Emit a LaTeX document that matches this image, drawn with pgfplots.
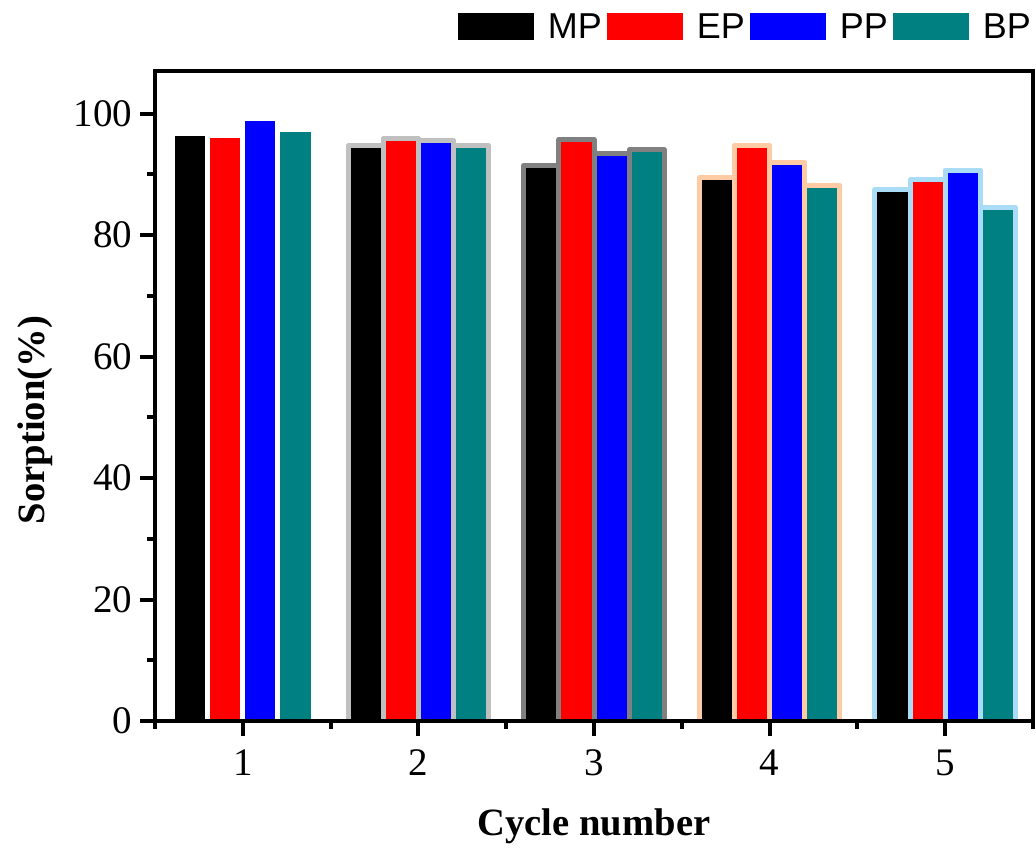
\documentclass[border=0pt]{standalone}
\usepackage{fontspec}
\setmainfont{Liberation Serif}
\newfontfamily\arial{Liberation Sans}
\usepackage{pgfplots}
\pgfplotsset{compat=1.18}
\definecolor{myteal}{HTML}{008080}
\definecolor{olg}{HTML}{C0C0C0}
\definecolor{ogr}{HTML}{808080}
\definecolor{opc}{HTML}{FFCBA4}
\definecolor{olb}{HTML}{AADCF5}
\pgfplotsset{myleg/.style={legend image code/.code={\path[fill, draw=none] (0pt,-13.5pt) rectangle (76pt,13.5pt);}}}
\newcommand{\onebar}[4]{\addplot[ybar, bar width=0.2, bar shift=#3, fill=#1, draw=#2, line width=5pt, line join=round, forget plot] coordinates {(#4)};}
\begin{document}
\begin{tikzpicture}
\begin{axis}[name=ax,
 scale only axis, width=878pt, height=650pt,
 xmin=0.5, xmax=5.5, ymin=0, ymax=107,
 xtick={1,2,3,4,5}, minor xtick={0.5,1.5,2.5,3.5,4.5,5.5},
 ytick={0,20,40,60,80,100}, minor ytick={10,30,50,70,90},
 tick align=outside, xtick pos=bottom, ytick pos=left,
 major tick length=15pt, minor tick length=8pt,
 axis line style={line width=4.5pt},
 major tick style={line width=4pt, black},
 minor tick style={line width=4pt, black},
 tick label style={font=\fontsize{39}{39}\selectfont},
 xticklabel style={yshift=-10pt},
 yticklabel style={xshift=-4pt},
 /pgf/number format/assume math mode=true,
 xlabel={Cycle number}, ylabel={Sorption(\%)},
 label style={font=\bfseries\fontsize{38.6}{40}\selectfont},
 xlabel style={at={(axis description cs:0.5,-0.1754)}, anchor=base},
 ylabel style={at={(axis description cs:-0.1264,0.463)}, anchor=base},
 legend columns=4, legend cell align=left,
 legend style={draw=none, fill=none, inner sep=0pt, outer sep=0pt,
   at={(axis description cs:0.9977,1.0477)}, anchor=south east,
   font=\arial\fontsize{36}{36}\selectfont,
   /tikz/every odd column/.append style={column sep=14pt},
   /tikz/every even column/.append style={column sep=5pt},
   nodes={inner sep=0pt}},
]
% cycle 1
\onebar{black}{white}{-0.3}{1,96.7}
\onebar{red}{white}{-0.1}{1,96.3}
\onebar{blue}{white}{0.1}{1,99.1}
\onebar{myteal}{white}{0.3}{1,97.3}
% cycle 2
\onebar{black}{olg}{-0.3}{2,94.7}
\onebar{red}{olg}{-0.1}{2,95.9}
\onebar{blue}{olg}{0.1}{2,95.6}
\onebar{myteal}{olg}{0.3}{2,94.7}
% cycle 3
\onebar{black}{ogr}{-0.3}{3,91.4}
\onebar{red}{ogr}{-0.1}{3,95.7}
\onebar{blue}{ogr}{0.1}{3,93.4}
\onebar{myteal}{ogr}{0.3}{3,94.0}
% cycle 4
\onebar{black}{opc}{-0.3}{4,89.5}
\onebar{red}{opc}{-0.1}{4,94.8}
\onebar{blue}{opc}{0.1}{4,92.0}
\onebar{myteal}{opc}{0.3}{4,88.2}
% cycle 5
\onebar{black}{olb}{-0.3}{5,87.5}
\onebar{red}{olb}{-0.1}{5,89.1}
\onebar{blue}{olb}{0.1}{5,90.7}
\onebar{myteal}{olb}{0.3}{5,84.5}
\addlegendimage{myleg, fill=black, draw=none}
\addlegendentry{MP}
\addlegendimage{myleg, fill=red, draw=none}
\addlegendentry{EP}
\addlegendimage{myleg, fill=blue, draw=none}
\addlegendentry{PP}
\addlegendimage{myleg, fill=myteal, draw=none}
\addlegendentry{BP}
\end{axis}
\draw[line width=4.5pt, line join=miter] (ax.south west) rectangle (ax.north east);
\pgfresetboundingbox
\path (-155pt,-126pt) rectangle (881pt,721pt);
\end{tikzpicture}
\end{document}
